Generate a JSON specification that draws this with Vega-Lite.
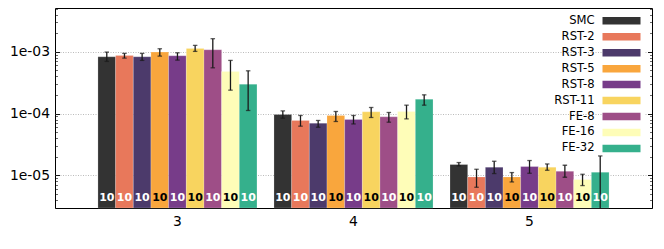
{
  "$schema": "https://vega.github.io/schema/vega-lite/v6.json",
  "width": 597,
  "height": 200,
  "autosize": {"type": "none"},
  "padding": {"left": 55, "top": 8, "right": 12, "bottom": 41},
  "background": "white",
  "config": {
    "view": {"stroke": "#000", "strokeWidth": 1},
    "font": "DejaVu Sans"
  },
  "data": {
    "values": [
      {"g": "3", "series": "SMC", "v": 8.30e-4, "lo": 6.99e-4, "hi": 9.89e-4, "n": 10},
      {"g": "3", "series": "RST-2", "v": 8.74e-4, "lo": 7.9e-4, "hi": 9.42e-4, "n": 10},
      {"g": "3", "series": "RST-3", "v": 8.30e-4, "lo": 7.25e-4, "hi": 9.42e-4, "n": 10},
      {"g": "3", "series": "RST-5", "v": 9.89e-4, "lo": 8.51e-4, "hi": 1.12e-3, "n": 10},
      {"g": "3", "series": "RST-8", "v": 8.61e-4, "lo": 7.33e-4, "hi": 9.63e-4, "n": 10},
      {"g": "3", "series": "RST-11", "v": 1.135e-3, "lo": 1.015e-3, "hi": 1.27e-3, "n": 10},
      {"g": "3", "series": "FE-8", "v": 1.077e-3, "lo": 5.5e-4, "hi": 1.63e-3, "n": 10},
      {"g": "3", "series": "FE-16", "v": 4.81e-4, "lo": 2.39e-4, "hi": 7.25e-4, "n": 10},
      {"g": "3", "series": "FE-32", "v": 2.99e-4, "lo": 1.12e-4, "hi": 4.92e-4, "n": 10},
      {"g": "4", "series": "SMC", "v": 9.65e-5, "lo": 8.41e-5, "hi": 1.104e-4, "n": 10},
      {"g": "4", "series": "RST-2", "v": 7.72e-5, "lo": 6.24e-5, "hi": 9.30e-5, "n": 10},
      {"g": "4", "series": "RST-3", "v": 6.97e-5, "lo": 6.0e-5, "hi": 7.72e-5, "n": 10},
      {"g": "4", "series": "RST-5", "v": 9.30e-5, "lo": 7.43e-5, "hi": 1.079e-4, "n": 10},
      {"g": "4", "series": "RST-8", "v": 8.01e-5, "lo": 6.78e-5, "hi": 9.30e-5, "n": 10},
      {"g": "4", "series": "RST-11", "v": 1.064e-4, "lo": 8.63e-5, "hi": 1.253e-4, "n": 10},
      {"g": "4", "series": "FE-8", "v": 8.83e-5, "lo": 7.24e-5, "hi": 1.04e-4, "n": 10},
      {"g": "4", "series": "FE-16", "v": 1.079e-4, "lo": 8.19e-5, "hi": 1.366e-4, "n": 10},
      {"g": "4", "series": "FE-32", "v": 1.71e-4, "lo": 1.366e-4, "hi": 2.007e-4, "n": 10},
      {"g": "5", "series": "SMC", "v": 1.492e-5, "lo": 1.416e-5, "hi": 1.607e-5, "n": 10},
      {"g": "5", "series": "RST-2", "v": 9.38e-6, "lo": 6.39e-6, "hi": 1.251e-5, "n": 10},
      {"g": "5", "series": "RST-3", "v": 1.349e-5, "lo": 1.066e-5, "hi": 1.687e-5, "n": 10},
      {"g": "5", "series": "RST-5", "v": 9.38e-6, "lo": 7.79e-6, "hi": 1.106e-5, "n": 10},
      {"g": "5", "series": "RST-8", "v": 1.384e-5, "lo": 1.077e-5, "hi": 1.732e-5, "n": 10},
      {"g": "5", "series": "RST-11", "v": 1.349e-5, "lo": 1.205e-5, "hi": 1.525e-5, "n": 10},
      {"g": "5", "series": "FE-8", "v": 1.161e-5, "lo": 9.28e-6, "hi": 1.452e-5, "n": 10},
      {"g": "5", "series": "FE-16", "v": 8.52e-6, "lo": 6.81e-6, "hi": 1.038e-5, "n": 10},
      {"g": "5", "series": "FE-32", "v": 1.119e-5, "lo": 1.8e-6, "hi": 2.056e-5, "n": 10}
    ]
  },
  "encoding": {
    "x": {
      "field": "g", "type": "nominal",
      "scale": {"paddingInner": 0.0966, "paddingOuter": 0.244},
      "axis": {"title": null, "labelAngle": 0, "ticks": false, "domain": false, "labelFont": "DejaVu Sans", "labelFontSize": 13.9, "labelColor": "#000", "labelPadding": 6}
    },
    "xOffset": {
      "field": "series", "type": "nominal",
      "scale": {"domain": ["SMC", "RST-2", "RST-3", "RST-5", "RST-8", "RST-11", "FE-8", "FE-16", "FE-32"]}
    }
  },
  "layer": [
    {
      "mark": {"type": "bar", "stroke": "#ffffff", "strokeOpacity": 0.25, "strokeWidth": 0.8},
      "encoding": {
        "y": {
          "field": "v", "type": "quantitative",
          "scale": {"type": "log", "domain": [2.95e-6, 5.12e-3], "nice": false},
          "axis": {
            "orient": "left", "title": null, "values": [1e-5, 1e-4, 1e-3],
            "tickSize": -4.5, "tickColor": "#000", "tickWidth": 0.9,
            "labelExpr": "replace(format(datum.value, '.0e'), 'e-', 'e-0')",
            "labelFont": "DejaVu Sans", "labelFontSize": 13.9, "labelColor": "#000", "labelPadding": 10,
            "grid": true, "gridDash": [1, 1.5], "gridColor": "#aaaaaa", "gridWidth": 0.8,
            "domain": false
          }
        },
        "y2": {"datum": 2.95e-6},
        "color": {
          "field": "series", "type": "nominal",
          "scale": {
            "domain": ["SMC", "RST-2", "RST-3", "RST-5", "RST-8", "RST-11", "FE-8", "FE-16", "FE-32"],
            "range": ["#333333", "#E8785B", "#4C3A6B", "#F9A63D", "#773C89", "#F8D45F", "#9E4E87", "#FEFDB8", "#35B08C"]
          },
          "legend": {
            "orient": "none", "legendX": 556.7, "legendY": 3, "title": null,
            "labelAlign": "right", "labelOffset": -32.7,
            "symbolType": "M-3.8,-0.75H3.8V0.75H-3.8Z", "symbolSize": 100, "symbolStrokeWidth": 0, "symbolOpacity": 1,
            "labelFont": "DejaVu Sans", "labelFontSize": 11.6, "labelColor": "#000",
            "rowPadding": 2.95, "padding": 4, "fillColor": "#ffffff"
          }
        }
      }
    },
    {
      "mark": {"type": "rule", "color": "#1a1a1a", "strokeWidth": 1.3, "clip": true},
      "encoding": {
        "y": {
          "field": "lo", "type": "quantitative",
          "axis": {
            "orient": "left", "title": null,
            "values": [3e-6, 4e-6, 5e-6, 6e-6, 7e-6, 8e-6, 9e-6, 2e-5, 3e-5, 4e-5, 5e-5, 6e-5, 7e-5, 8e-5, 9e-5, 2e-4, 3e-4, 4e-4, 5e-4, 6e-4, 7e-4, 8e-4, 9e-4, 2e-3, 3e-3, 4e-3, 5e-3],
            "tickSize": -2.5, "tickColor": "#000", "tickWidth": 0.6, "labels": false, "grid": false, "domain": false
          }
        },
        "y2": {"field": "hi"}
      }
    },
    {
      "mark": {"type": "tick", "color": "#1a1a1a", "thickness": 1.3, "size": 4.5, "orient": "horizontal", "clip": true},
      "encoding": {
        "y": {
          "field": "hi", "type": "quantitative",
          "axis": {
            "orient": "right", "title": null, "values": [1e-5, 1e-4, 1e-3],
            "tickSize": -4.5, "tickColor": "#000", "tickWidth": 0.9, "labels": false, "grid": false, "domain": false
          }
        }
      }
    },
    {
      "mark": {"type": "tick", "color": "#1a1a1a", "thickness": 1.3, "size": 4.5, "orient": "horizontal", "clip": true},
      "encoding": {
        "y": {
          "field": "lo", "type": "quantitative",
          "axis": {
            "orient": "right", "title": null,
            "values": [3e-6, 4e-6, 5e-6, 6e-6, 7e-6, 8e-6, 9e-6, 2e-5, 3e-5, 4e-5, 5e-5, 6e-5, 7e-5, 8e-5, 9e-5, 2e-4, 3e-4, 4e-4, 5e-4, 6e-4, 7e-4, 8e-4, 9e-4, 2e-3, 3e-3, 4e-3, 5e-3],
            "tickSize": -2.5, "tickColor": "#000", "tickWidth": 0.6, "labels": false, "grid": false, "domain": false
          }
        }
      }
    },
    {
      "mark": {"type": "text", "font": "DejaVu Sans", "fontWeight": "bold", "fontSize": 11, "align": "center", "baseline": "middle"},
      "encoding": {
        "y": {"datum": 4.3e-6, "type": "quantitative", "axis": null},
        "text": {"field": "n"},
        "color": {
          "condition": {"test": "indexof(['RST-5', 'RST-11', 'FE-16'], datum.series) >= 0", "value": "#000000"},
          "value": "#ffffff"
        }
      }
    }
  ],
  "resolve": {"axis": {"y": "independent"}}
}
